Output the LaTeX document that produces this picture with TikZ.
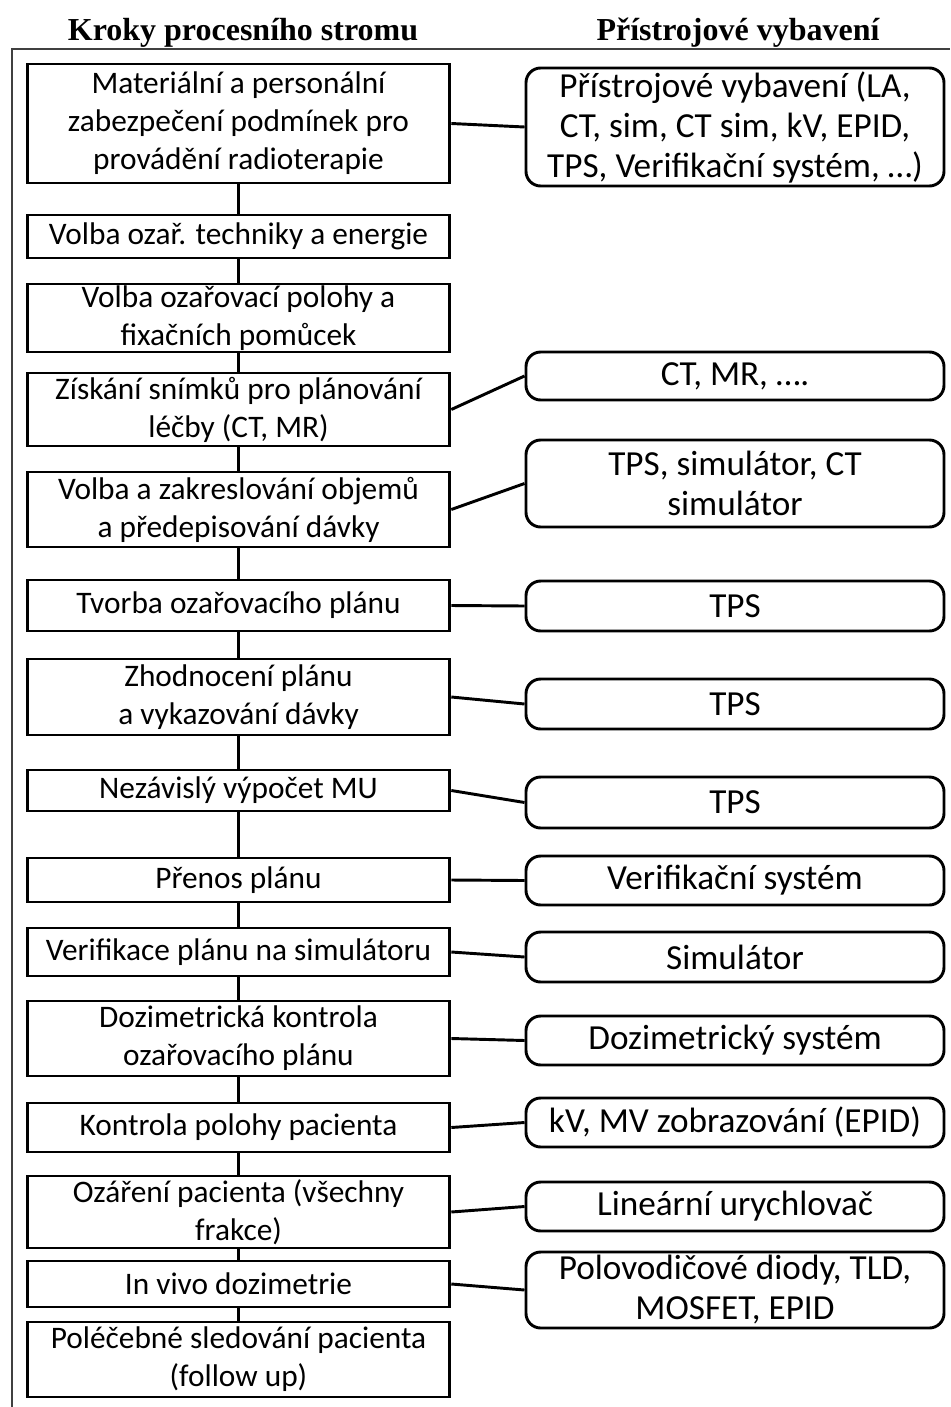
\documentclass[tikz,border=0pt]{standalone}
\usepackage{fontspec}
\setmainfont{Carlito}
\newfontfamily\hlavafont{Liberation Serif}
\usetikzlibrary{calc}

\tikzset{
  krok/.style={draw, line width=2.2pt, align=center, inner sep=0pt,
    minimum width=317pt, font=\fontsize{23.5}{28.5}\selectfont},
  pristroj/.style={krok, rounded corners=11pt, minimum width=313.5pt,
    font=\fontsize{26.4}{30}\selectfont},
  hlava/.style={font=\hlavafont\bfseries\fontsize{24}{28}\selectfont, anchor=base},
  spoj/.style={line width=2.2pt}
}

\begin{document}
\begin{tikzpicture}[x=0.75pt, y=-0.75pt]
\useasboundingbox (0,0) rectangle (950,1407);
\draw[black!75, line width=1.2pt] (12,1407) -- (12,49) -- (950,49);

\node[hlava] (hlevy) at (243,40) {Kroky procesního stromu};
\node[hlava] (hpravy) at (738,40) {Přístrojové vybavení};

\foreach \jm/\yc/\vys/\txt [evaluate=\vys as \vyspt using \vys*0.75] in {
  s1/123.5/119/{Materiální a personální\\zabezpečení podmínek pro\\provádění radioterapie},
  s2/236.5/43/{Volba ozař. techniky a energie},
  s3/318/68/{Volba ozařovací polohy a\\fixačních pomůcek},
  s4/409.5/73/{Získání snímků pro plánování\\léčby (CT, MR)},
  s5/509.5/75/{Volba a zakreslování objemů\\a předepisování dávky},
  s6/605.5/51/{Tvorba ozařovacího plánu},
  s7/697/76/{Zhodnocení plánu\\a vykazování dávky},
  s8/790.5/41/{Nezávislý výpočet MU},
  s9/880/44/{Přenos plánu},
  s10/952/48/{Verifikace plánu na simulátoru},
  s11/1038.5/75/{Dozimetrická kontrola\\ozařovacího plánu},
  s12/1127.5/49/{Kontrola polohy pacienta},
  s13/1212/72/{Ozáření pacienta (všechny\\frakce)},
  s14/1284/46/{In vivo dozimetrie},
  s15/1359.5/75/{Poléčebné sledování pacienta\\(follow up)}} {
  \node[krok, minimum height=\vyspt pt] (\jm) at (238.5,\yc) {\txt};
}

\foreach \jm/\yc/\vys/\txt [evaluate=\vys as \vyspt using \vys*0.75] in {
  r1/127/118/{Přístrojové vybavení (LA,\\CT, sim, CT sim, kV, EPID,\\TPS, Verifikační systém, …)},
  r4/376/48/{CT, MR, ….},
  r5/483.5/87/{TPS, simulátor, CT\\simulátor},
  r6/606/50/{TPS},
  r7/704/50/{TPS},
  r8/802.5/51/{TPS},
  r9/880.5/49/{Verifikační systém},
  r10/957/50/{Simulátor},
  r11/1040.5/49/{Dozimetrický systém},
  r12/1122.5/49/{kV, MV zobrazování (EPID)},
  r13/1206.5/49/{Lineární urychlovač},
  r14/1290/76/{Polovodičové diody, TLD,\\MOSFET, EPID}} {
  \node[pristroj, minimum height=\vyspt pt] (\jm) at (735,\yc) {\txt};
}

\foreach \a/\b in {s1/s2,s2/s3,s3/s4,s4/s5,s5/s6,s6/s7,s7/s8,s8/s9,s9/s10,
  s10/s11,s11/s12,s12/s13,s13/s14,s14/s15} {
  \draw[spoj] (\a.south) -- (\b.north);
}

\foreach \k in {1,4,5,6,7,8,9,10,11,12,13,14} {
  \draw[spoj] (s\k.east) -- (r\k.west);
}
\end{tikzpicture}
\end{document}
